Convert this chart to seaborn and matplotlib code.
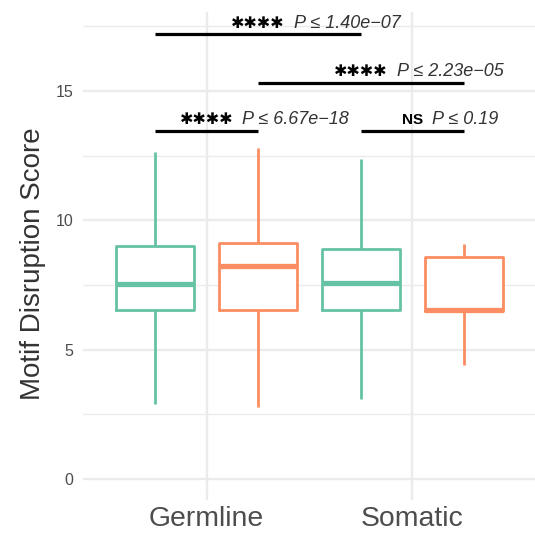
import numpy as np
import pandas as pd
import matplotlib.pyplot as plt
import seaborn as sns
from matplotlib.ticker import MultipleLocator

# ================================
# Data
# ================================
groups = ["Germline", "Somatic"]
variants = ["Low", "High"]
palette = ["#66C2A5", "#FC8D62"]

# five-number summaries per box: min, Q1, median, Q3, max
germline_low = [2.90, 6.53, 7.54, 9.01, 12.65]
germline_high = [2.77, 6.53, 8.22, 9.11, 12.78]
somatic_low = [3.08, 6.53, 7.58, 8.90, 12.36]
somatic_high = [4.41, 6.51, 6.55, 8.58, 9.08]

# pairwise comparisons: (group, variant) vs (group, variant)
comp_a = [("Germline", "Low"), ("Germline", "Low"), ("Germline", "High"), ("Somatic", "Low")]
comp_b = [("Germline", "High"), ("Somatic", "Low"), ("Somatic", "High"), ("Somatic", "High")]
comp_y = [13.47, 17.19, 15.32, 13.47]
signif = ["****", "****", "****", "NS"]
p_labels = ["P ≤ 6.67e−18", "P ≤ 1.40e−07", "P ≤ 2.23e−05", "P ≤ 0.19"]

rows = []
for g, v, vals in [("Germline", "Low", germline_low), ("Germline", "High", germline_high),
                   ("Somatic", "Low", somatic_low), ("Somatic", "High", somatic_high)]:
    for s in vals:
        rows.append({"group": g, "variant": v, "score": s})
df = pd.DataFrame(rows)

# ================================
# Plot
# ================================
sns.set_theme(style="whitegrid")
plt.rcParams["font.family"] = ["Liberation Sans", "DejaVu Sans"]

fig = plt.figure(figsize=(5.35, 5.33), dpi=100)
ax = fig.add_axes([83 / 535, 33 / 533, 452 / 535, 488 / 533])

box_kw = dict(data=df, x="group", y="score", hue="variant", order=groups,
              hue_order=variants, width=1.0, gap=0.24, whis=(0, 100),
              showcaps=False, legend=False, ax=ax)
# white backing boxes so the grid does not show through
sns.boxplot(**box_kw, palette=["white", "white"], fill=True, linewidth=0)
sns.boxplot(**box_kw, palette=palette, fill=False, linewidth=2.0,
            medianprops={"linewidth": 3.8})

ax.set_xlim(-0.6, 1.595)
ax.set_ylim(-0.81, 18.05)
ax.yaxis.set_major_locator(MultipleLocator(5))
ax.yaxis.set_minor_locator(MultipleLocator(2.5))
ax.set_axisbelow(True)
ax.grid(which="major", color="#EBEBEB", linewidth=1.7)
ax.grid(which="minor", axis="y", color="#EBEBEB", linewidth=1.0)
for sp in ax.spines.values():
    sp.set_visible(False)
ax.tick_params(axis="both", which="both", length=0)
ax.tick_params(axis="y", labelsize=11.5, labelcolor="#4D4D4D", pad=7)
ax.tick_params(axis="x", labelsize=20.4, labelcolor="#4D4D4D", pad=4)
ax.set_xlabel("")
ax.set_ylabel("Motif Disruption Score", fontsize=20, color="#333333")
ax.yaxis.set_label_coords(-0.081, 0.485)

# significance brackets
half = 0.25
def box_x(key):
    g, v = key
    return groups.index(g) + (-half if variants.index(v) == 0 else half)

for a, b, y, sig, ptxt in zip(comp_a, comp_b, comp_y, signif, p_labels):
    x0, x1 = box_x(a), box_x(b)
    ax.plot([x0, x1], [y, y], color="black", linewidth=2.3, solid_capstyle="butt")
    cx = (x0 + x1) / 2
    if sig == "NS":
        st = ax.annotate(sig, xy=(cx, y), xytext=(0, 4.5), textcoords="offset points",
                         ha="center", va="baseline", fontsize=11, fontweight="bold",
                         color="black")
    else:
        st = ax.annotate("✱" * len(sig), xy=(cx, y), xytext=(0, 4.5), textcoords="offset points",
                         ha="center", va="baseline", fontsize=11.5,
                         family=["DejaVu Sans"], fontweight="bold", color="black")
    ax.annotate(ptxt, xy=(1, y), xycoords=(st, "data"), xytext=(6.5, 4.5),
                textcoords="offset points", ha="left", va="baseline",
                fontsize=13, style="italic", color="#333333")

fig.savefig("out.png", dpi=100)
